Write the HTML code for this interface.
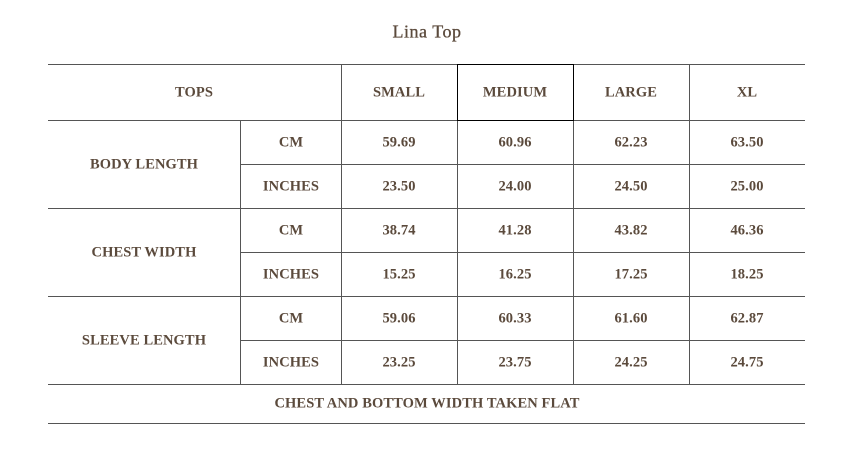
<!DOCTYPE html>
<html><head><meta charset="utf-8"><style>
body{margin:0;width:844px;height:455px;background:#fff;position:relative;overflow:hidden;font-family:"Liberation Serif",serif;color:#5b4a3c}
.h{position:absolute;height:1px;background:#555}
.v{position:absolute;width:1px;background:#555}
.t{position:absolute;font-size:14.5px;font-weight:bold;text-align:center;transform:translate(-50%,-50%);white-space:nowrap;letter-spacing:0.1px;margin-top:1px}
</style></head><body>
<div class="t" style="left:427px;top:31px;font-size:18px;font-weight:normal;letter-spacing:0.5px;-webkit-text-stroke:0.3px #5b4a3c">Lina Top</div>
<div class="h" style="left:48px;width:757px;top:64px"></div>
<div class="h" style="left:48px;width:757px;top:120px"></div>
<div class="h" style="left:48px;width:757px;top:208px"></div>
<div class="h" style="left:48px;width:757px;top:296px"></div>
<div class="h" style="left:48px;width:757px;top:384px"></div>
<div class="h" style="left:48px;width:757px;top:423px"></div>
<div class="h" style="left:240px;width:565px;top:164px"></div>
<div class="h" style="left:240px;width:565px;top:252px"></div>
<div class="h" style="left:240px;width:565px;top:340px"></div>
<div class="v" style="left:240px;top:120px;height:264px"></div>
<div class="v" style="left:341px;top:64px;height:320px"></div>
<div class="v" style="left:457px;top:64px;height:320px"></div>
<div class="v" style="left:573px;top:64px;height:320px"></div>
<div class="v" style="left:689px;top:64px;height:320px"></div>
<div style="position:absolute;left:457px;top:64px;width:115px;height:55px;border:1px solid #000"></div>
<div class="t" style="left:194px;top:92px">TOPS</div>
<div class="t" style="left:399px;top:92px">SMALL</div>
<div class="t" style="left:515px;top:92px">MEDIUM</div>
<div class="t" style="left:631px;top:92px">LARGE</div>
<div class="t" style="left:747px;top:92px">XL</div>
<div class="t" style="left:144px;top:164px">BODY LENGTH</div>
<div class="t" style="left:144px;top:252px">CHEST WIDTH</div>
<div class="t" style="left:144px;top:340px">SLEEVE LENGTH</div>
<div class="t" style="left:291px;top:142px">CM</div><div class="t" style="left:291px;top:186px">INCHES</div>
<div class="t" style="left:291px;top:230px">CM</div><div class="t" style="left:291px;top:274px">INCHES</div>
<div class="t" style="left:291px;top:318px">CM</div><div class="t" style="left:291px;top:362px">INCHES</div>
<div class="t" style="left:399px;top:142px">59.69</div><div class="t" style="left:515px;top:142px">60.96</div><div class="t" style="left:631px;top:142px">62.23</div><div class="t" style="left:747px;top:142px">63.50</div>
<div class="t" style="left:399px;top:186px">23.50</div><div class="t" style="left:515px;top:186px">24.00</div><div class="t" style="left:631px;top:186px">24.50</div><div class="t" style="left:747px;top:186px">25.00</div>
<div class="t" style="left:399px;top:230px">38.74</div><div class="t" style="left:515px;top:230px">41.28</div><div class="t" style="left:631px;top:230px">43.82</div><div class="t" style="left:747px;top:230px">46.36</div>
<div class="t" style="left:399px;top:274px">15.25</div><div class="t" style="left:515px;top:274px">16.25</div><div class="t" style="left:631px;top:274px">17.25</div><div class="t" style="left:747px;top:274px">18.25</div>
<div class="t" style="left:399px;top:318px">59.06</div><div class="t" style="left:515px;top:318px">60.33</div><div class="t" style="left:631px;top:318px">61.60</div><div class="t" style="left:747px;top:318px">62.87</div>
<div class="t" style="left:399px;top:362px">23.25</div><div class="t" style="left:515px;top:362px">23.75</div><div class="t" style="left:631px;top:362px">24.25</div><div class="t" style="left:747px;top:362px">24.75</div>
<div class="t" style="left:427px;top:403px">CHEST AND BOTTOM WIDTH TAKEN FLAT</div>
</body></html>
